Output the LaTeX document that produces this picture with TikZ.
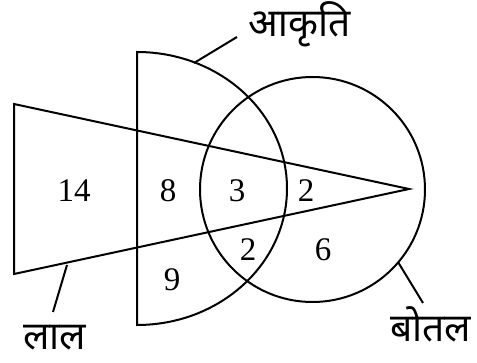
\documentclass[tikz,border=0pt]{standalone}
\usepackage{fontspec}
\setmainfont{Liberation Serif}
\newfontfamily\deva[Script=Devanagari]{Noto Sans}
\begin{document}
\begin{tikzpicture}[x=1pt,y=-1pt,
  shape line/.style={line width=2pt,line join=miter},
  num/.style={font=\fontsize{33}{33}\selectfont,inner sep=0pt},
  setlabel/.style={font=\deva\fontsize{39}{39}\selectfont,inner sep=0pt,anchor=base west}]
\useasboundingbox (0,0) rectangle (477,363);
% half ellipse (aakriti)
\draw[shape line] (137,52) -- (137,325) arc[start angle=90,end angle=-90,x radius=150,y radius=136.5] -- cycle;
% circle (botal)
\draw[shape line] (312.5,189.5) circle[radius=112.5];
% triangle (laal)
\draw[shape line] (14,104) -- (409,189) -- (14,274) -- cycle;
% numbers
\node[num] (n14) at (74,191) {14};
\node[num] (n8) at (168,191) {8};
\node[num] (n3) at (237,191) {3};
\node[num] (n2a) at (306,191) {2};
\node[num] (n2b) at (248,250) {2};
\node[num] (n6) at (323,250) {6};
\node[num] (n9) at (172,280) {9};
% labels
\node[setlabel] (lak) at (248,37) {आकृति};
\node[setlabel] (llal) at (23,350) {लाल};
\node[setlabel] (lbot) at (390,342) {बोतल};
% leaders
\coordinate (ak1) at (194,63); \coordinate (ak2) at (237,37);
\coordinate (la1) at (67,265); \coordinate (la2) at (53,312);
\coordinate (bo1) at (398,262); \coordinate (bo2) at (423,303);
\draw[shape line] (ak1) -- (ak2);
\draw[shape line] (la1) -- (la2);
\draw[shape line] (bo1) -- (bo2);
\end{tikzpicture}
\end{document}
